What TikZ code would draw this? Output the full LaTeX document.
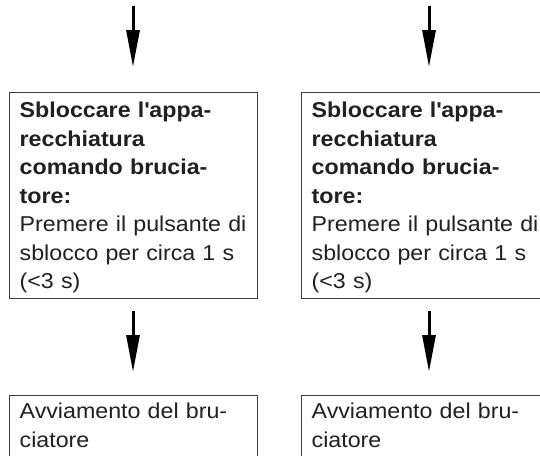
\documentclass[tikz,border=0pt]{standalone}
\usepackage{fontspec}
\setmainfont[FakeStretch=1.08]{Liberation Sans}
\usetikzlibrary{arrows.meta}
\definecolor{boxgray}{HTML}{3C3C3C}
\definecolor{textgray}{HTML}{231F20}

\begin{document}
\begin{tikzpicture}[x=1pt,y=-1pt,
    stepbox/.style={draw=boxgray, line width=1.4pt, rectangle, anchor=north west,
      text width=228pt, inner xsep=10pt, inner ysep=9.3pt, align=left,
      font=\fontsize{21.5}{28.5}\selectfont, text=textgray},
    flow/.style={line width=3pt, -{Triangle[length=37pt,width=13pt]}}]
        \useasboundingbox (0,0) rectangle (540,455);
        \clip (0,0) rectangle (540,455);

        \coordinate (in1) at (133,6);
        \coordinate (in2) at (429,6);

        \node (sb1)[stepbox, text depth=171.7pt] at (9,92) {\textbf{Sbloccare l\textquotesingle appa-}\\\textbf{recchiatura}\\\textbf{comando brucia-}\\\textbf{tore:}\\Premere il pulsante di\\sblocco per circa 1 s\\(<3 s)};
        \node (sb2)[stepbox, text depth=171.7pt] at (301,92) {\textbf{Sbloccare l\textquotesingle appa-}\\\textbf{recchiatura}\\\textbf{comando brucia-}\\\textbf{tore:}\\Premere il pulsante di\\sblocco per circa 1 s\\(<3 s)};
        \node (av1)[stepbox, inner ysep=7.5pt, text depth=60pt] at (9,395) {Avviamento del bru-\\ciatore};
        \node (av2)[stepbox, inner ysep=7.5pt, text depth=60pt] at (301,395) {Avviamento del bru-\\ciatore};

        \draw[flow, shorten >=25pt] (in1) -- (in1 |- sb1.north);
        \draw[flow, shorten >=25pt] (in2) -- (in2 |- sb2.north);
        \draw[flow, shorten <=12pt, shorten >=23pt] (in1 |- sb1.south) -- (in1 |- av1.north);
        \draw[flow, shorten <=12pt, shorten >=23pt] (in2 |- sb2.south) -- (in2 |- av2.north);

    \end{tikzpicture}
\end{document}
